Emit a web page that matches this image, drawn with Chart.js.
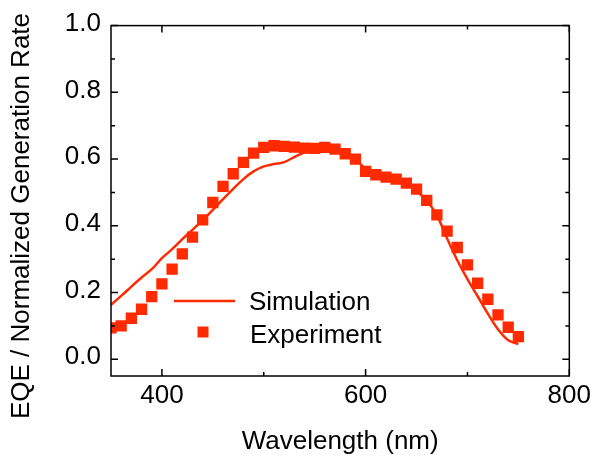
<!DOCTYPE html>
<html>
<head>
<meta charset="utf-8">
<script src="https://cdn.jsdelivr.net/npm/chart.js@4.4.0/dist/chart.umd.min.js"></script>
<style>
    html, body { margin: 0; padding: 0; background: #ffffff; }
</style>
</head>
<body>
<canvas id="grafico-eqe" width="595" height="458"></canvas>
<script>
// Longitud de onda (nm) de cada punto medido / simulado
var longitudes = [350, 360, 370, 380, 390, 400, 410, 420, 430, 440,
                  450, 460, 470, 480, 490, 500, 510, 520, 530, 540,
                  550, 560, 570, 580, 590, 600, 610, 620, 630, 640,
                  650, 660, 670, 680, 690, 700, 710, 720, 730, 740, 750];

// Tasa de generacion normalizada (simulacion)
var simulacion = [0.163, 0.190, 0.218, 0.245, 0.270, 0.303, 0.330, 0.360, 0.388, 0.417,
                  0.448, 0.480, 0.511, 0.540, 0.563, 0.578, 0.585, 0.591, 0.606, 0.620,
                  0.630, 0.635, 0.632, 0.620, 0.598, 0.572, 0.556, 0.548, 0.540, 0.526,
                  0.505, 0.474, 0.432, 0.362, 0.297, 0.240, 0.189, 0.137, 0.090, 0.057, 0.046];

// EQE medido (experimento)
var experimento = [0.094, 0.100, 0.123, 0.150, 0.188, 0.226, 0.270, 0.316, 0.366, 0.418,
                   0.470, 0.518, 0.556, 0.590, 0.618, 0.635, 0.640, 0.638, 0.636, 0.633,
                   0.632, 0.635, 0.630, 0.616, 0.600, 0.563, 0.553, 0.546, 0.540, 0.528,
                   0.510, 0.476, 0.433, 0.384, 0.335, 0.283, 0.228, 0.180, 0.133, 0.096, 0.068];

var ticksX = [400, 600, 800];
var ticksXMenores = [500, 700];
var ticksY = [0.0, 0.2, 0.4, 0.6, 0.8, 1.0];
var ticksYMenores = [0.1, 0.3, 0.5, 0.7, 0.9];

var ROJO = "#ff2a00";
var FUENTE = "'Liberation Sans', Arial, sans-serif";

function puntos(serie) {
    return longitudes.map(function (x, i) { return { x: x, y: serie[i] }; });
}

/** Marco negro con marcas hacia dentro en los cuatro lados, leyenda y titulo vertical. */
var marcoPlugin = {
    id: "marco",
    afterDraw: function (chart) {
        var ctx = chart.ctx;
        var a = chart.chartArea;
        var sx = chart.scales.x;
        var sy = chart.scales.y;
        ctx.save();
        ctx.strokeStyle = "#000000";
        ctx.lineWidth = 1.5;
        ctx.strokeRect(a.left, a.top, a.right - a.left, a.bottom - a.top);

        function marcaX(v, largo) {
            var px = sx.getPixelForValue(v);
            ctx.beginPath();
            ctx.moveTo(px, a.bottom); ctx.lineTo(px, a.bottom - largo);
            ctx.moveTo(px, a.top); ctx.lineTo(px, a.top + largo);
            ctx.stroke();
        }
        function marcaY(v, largo) {
            var py = sy.getPixelForValue(v);
            ctx.beginPath();
            ctx.moveTo(a.left, py); ctx.lineTo(a.left + largo, py);
            ctx.moveTo(a.right, py); ctx.lineTo(a.right - largo, py);
            ctx.stroke();
        }
        ticksX.forEach(function (v) { marcaX(v, 7); });
        ticksXMenores.forEach(function (v) { marcaX(v, 4); });
        ticksY.forEach(function (v) { marcaY(v, 7); });
        ticksYMenores.forEach(function (v) { marcaY(v, 4); });

        // leyenda
        ctx.font = "26px " + FUENTE;
        ctx.fillStyle = "#000000";
        ctx.textBaseline = "alphabetic";
        ctx.textAlign = "left";
        ctx.strokeStyle = ROJO;
        ctx.lineWidth = 2.5;
        ctx.beginPath();
        ctx.moveTo(a.left + 63, 301);
        ctx.lineTo(a.left + 124, 301);
        ctx.stroke();
        ctx.fillText("Simulation", a.left + 138, 310);
        ctx.fillStyle = ROJO;
        ctx.fillRect(a.left + 86.5, 326.5, 11, 11);
        ctx.fillStyle = "#000000";
        ctx.fillText("Experiment", a.left + 139, 343);

        // titulo del eje Y
        ctx.translate(28.5, 216);
        ctx.rotate(-Math.PI / 2);
        ctx.textAlign = "center";
        ctx.fillText("EQE / Normalized Generation Rate", 0, 0);
        ctx.restore();
    }
};

new Chart(document.getElementById("grafico-eqe").getContext("2d"), {
    type: "scatter",
    data: {
        datasets: [{
            label: "Experiment",
            data: puntos(experimento),
            showLine: false,
            pointStyle: "rect",
            pointRadius: 8,
            pointBorderWidth: 0,
            pointBackgroundColor: ROJO,
            borderColor: ROJO,
            order: 0
        }, {
            label: "Simulation",
            data: puntos(simulacion),
            showLine: true,
            pointRadius: 0,
            borderColor: ROJO,
            borderWidth: 2.5,
            cubicInterpolationMode: "monotone",
            order: 1
        }]
    },
    options: {
        responsive: false,
        animation: false,
        devicePixelRatio: 1,
        layout: { padding: { top: 23, right: 24, left: 0, bottom: 0 } },
        plugins: { legend: { display: false }, tooltip: { enabled: false } },
        scales: {
            x: {
                type: "linear",
                min: 350,
                max: 800,
                afterBuildTicks: function (s) { s.ticks = ticksX.map(function (v) { return { value: v }; }); },
                afterFit: function (s) { s.height = 82; },
                grid: { display: false, drawTicks: false },
                border: { display: false },
                ticks: { color: "#000000", padding: 4, maxRotation: 0, font: { family: FUENTE, size: 26 } },
                title: {
                    display: true,
                    text: "Wavelength (nm)",
                    color: "#000000",
                    font: { family: FUENTE, size: 26 },
                    padding: { top: 0, bottom: 1 }
                }
            },
            y: {
                type: "linear",
                min: -0.05,
                max: 1.0,
                afterBuildTicks: function (s) { s.ticks = ticksY.map(function (v) { return { value: v }; }); },
                afterFit: function (s) { s.width = 111; },
                grid: { display: false, drawTicks: false },
                border: { display: false },
                ticks: {
                    color: "#000000",
                    padding: 10,
                    labelOffset: -2,
                    font: { family: FUENTE, size: 26 },
                    callback: function (v) { return Number(v).toFixed(1); }
                }
            }
        }
    },
    plugins: [marcoPlugin]
});
</script>
</body>
</html>
